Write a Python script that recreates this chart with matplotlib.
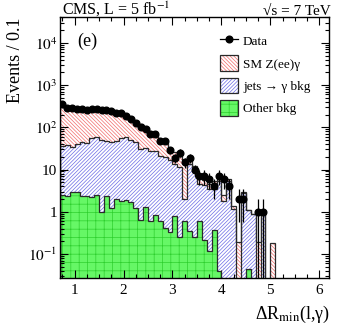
import numpy as np
import matplotlib
matplotlib.use("Agg")
import matplotlib.pyplot as plt
from matplotlib.lines import Line2D
from matplotlib.patches import Patch
from matplotlib.legend_handler import HandlerTuple
from matplotlib.ticker import MultipleLocator, LogLocator, NullFormatter

plt.rcParams['font.family'] = ['Liberation Serif', 'DejaVu Serif']
plt.rcParams['mathtext.fontset'] = 'stix'
plt.rcParams['hatch.linewidth'] = 0.5

# ---- data (bins of 0.1 from 0.7 to 5.2) ----
bin_start = 0.7
bin_width = 0.1
n_bins = 45

data_counts = [350, 290, 287, 276, 265, 252, 265, 265, 262, 252, 240, 218, 218, 185,
               160, 128, 103, 89, 70, 70, 47, 47, 29, 19, 25, 15, 19,
               10, 7, 7, 6, 4, 7, 6, 4, 0, 2, 2, 0, 0, 1, 1,
               0, 0, 0]

other_bkg = [2.5, 2.3, 2.9, 2.9, 2.4, 2.4, 2.2, 2.5, 1.0, 2.3, 1.2, 2.0, 1.8, 1.9,
             1.7, 1.2, 0.65, 1.3, 0.62, 0.85, 0.6, 0.42, 0.34, 0.8, 0.25, 0.62, 0.35,
             0.25, 0.6, 0.22, 0.12, 0.38, 0.04, 0, 0, 0, 0, 0, 0.045, 0, 0, 0,
             0, 0, 0]

jets_bkg = [34.5, 35.7, 31.1, 37.1, 42.6, 39.6, 53.8, 55.5, 49.0, 44.7, 43.8, 46.0, 55.2, 56.1,
            47.3, 43.8, 30.4, 30.7, 27.4, 26.2, 20.9, 19.6, 16.2, 12.9, 11.3, 1.4, 13.4,
            9.8, 4.0, 4.2, 3.4, 3.0, 5.2, 1.8, 5.4, 1.15, 0, 2.8, 1.05, 0.9, 0, 0.9,
            0, 0, 0]

sm_zeeg = [273, 247, 246, 232, 223, 220, 202, 197, 200, 196, 187, 172, 148, 130,
           116, 95, 87, 66, 52, 37, 30.5, 22, 16.5, 12.3, 9.5, 14.5, 4.3,
           2.0, 2.2, 1.1, 1.1, 2.1, 0.6, 0.7, 0.6, 0.2, 0.19, 0.2, 0, 0, 0.19, 0,
           0, 0.18, 0]

y_tick_values = [1e-1, 1, 10, 1e2, 1e3, 1e4]
y_tick_labels = [r'$10^{-1}$', '1', '10', r'$10^{2}$', r'$10^{3}$', r'$10^{4}$']

edges = bin_start + bin_width * np.arange(n_bins + 1)
centers = 0.5 * (edges[:-1] + edges[1:])

W, H = 349, 335
fig = plt.figure(figsize=(W / 100, H / 100), dpi=100)
ax = fig.add_axes([60 / W, 1 - 278 / H, 269 / W, 261 / H])

floor = 1e-4
g = np.array(other_bkg, float)
gj = g + np.array(jets_bkg, float)
tot = gj + np.array(sm_zeeg, float)
def lift(a):
    return np.where(a > 0, a, floor)

green_face, green_hatch = '#66f766', '#2fcf2f'
blue_hatch = '#6b6be6'
red_hatch = '#f26b6b'
outline = '#2a2a2a'
blue_pat = '/' * 9
red_pat = '\\' * 9
green_pat = '++'

ax.stairs(lift(g), edges, baseline=floor, fill=True, facecolor=green_face,
          edgecolor=green_hatch, hatch=green_pat, linewidth=0, zorder=1)
ax.stairs(lift(gj), edges, baseline=lift(g), fill=True, facecolor='white',
          edgecolor=blue_hatch, hatch=blue_pat, linewidth=0, zorder=1)
ax.stairs(lift(tot), edges, baseline=lift(gj), fill=True, facecolor='white',
          edgecolor=red_hatch, hatch=red_pat, linewidth=0, zorder=1)
for arr in (g, gj, tot):
    ax.stairs(lift(arr), edges, baseline=floor, fill=False, color=outline,
              linewidth=0.9, zorder=2)

d = np.array(data_counts, float)
m = d > 0
err = np.sqrt(d[m])
lo = np.minimum(err, d[m] - 1e-3)
ax.errorbar(centers[m], d[m], yerr=[lo, err], fmt='o', color='black', ms=4.8,
            elinewidth=0.9, capsize=0, zorder=5)

ax.set_yscale('log')
ax.set_xlim(0.7, 6.2)
ax.set_ylim(0.027, 4.1e4)

ax.xaxis.set_major_locator(MultipleLocator(1))
ax.xaxis.set_minor_locator(MultipleLocator(0.25))
ax.yaxis.set_minor_locator(LogLocator(base=10, subs=np.arange(2, 10), numticks=20))
ax.set_yticks(y_tick_values)
ax.set_yticklabels(y_tick_labels)
ax.yaxis.set_minor_formatter(NullFormatter())

ax.tick_params(which='both', direction='in', top=True, right=True, labelsize=11)
ax.tick_params(which='major', length=5.8, width=0.8)
ax.tick_params(which='minor', length=2.9, width=0.8)
ax.tick_params(axis='x', pad=4)
ax.tick_params(axis='y', pad=2)
for s in ax.spines.values():
    s.set_linewidth(1.0)

fig.text(62 / W, 1 - 15 / H, r'CMS, L = 5 fb$^{-1}$', ha='left', va='baseline', fontsize=11.5)
fig.text(331 / W, 1 - 15 / H, '√s = 7 TeV', ha='right', va='baseline', fontsize=11)
fig.text(77 / W, 1 - 41 / H, '(e)', ha='left', va='center', fontsize=13)
fig.text(16 / W, 1 - 60 / H, 'Events / 0.1', rotation=90, ha='center', va='center', fontsize=13)
fig.text(330 / W, 1 - 314 / H, r'ΔR$_{\rm min}$(l,γ)', ha='right', va='center', fontsize=13)

h_data = Line2D([], [], color='black', marker='o', ms=4.8, lw=0.9)
def box(face, hcol, hatch):
    return (Patch(facecolor=face, edgecolor=hcol, hatch=hatch, linewidth=0),
            Patch(fill=False, edgecolor=outline, linewidth=0.9))
handles = [h_data,
           box('white', red_hatch, red_pat),
           box('white', blue_hatch, blue_pat),
           box(green_face, green_hatch, green_pat)]
labels = ['Data', 'SM Z(ee)γ', 'jets → γ bkg', 'Other bkg']
leg = ax.legend(handles, labels, loc='upper left',
                bbox_to_anchor=((220 - 60) / 269, 1 - (33 - 17) / 261),
                frameon=False, borderpad=0, borderaxespad=0, fontsize=9.5,
                handlelength=1.4, handleheight=1.4, handletextpad=0.35,
                labelspacing=0.55, handler_map={tuple: HandlerTuple(ndivide=1, pad=0)})
leg.set_zorder(10)

fig.savefig('out.png', dpi=100)
